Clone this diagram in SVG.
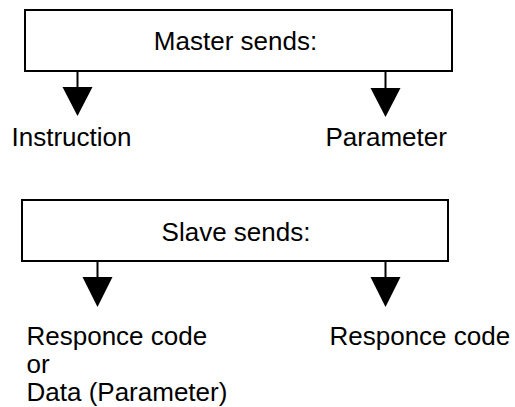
<svg xmlns="http://www.w3.org/2000/svg" width="515" height="407" viewBox="0 0 515 407">
<style>
.box{fill:#fff;stroke:#000;stroke-width:2}
.ln{stroke:#000;stroke-width:2;fill:none}
.hd{fill:#000;stroke:none}
text{font-family:"Liberation Sans",Arial,sans-serif;font-size:26px;fill:#000}
</style>
<rect width="515" height="407" fill="#fff"/>
<g id="master">
<rect class="box" x="25" y="10" width="427" height="61"/>
<text x="235.5" y="50" text-anchor="middle">Master sends:</text>
</g>
<g id="slave">
<rect class="box" x="22" y="200" width="426" height="61"/>
<text x="236" y="241" text-anchor="middle">Slave sends:</text>
</g>
<g id="instruction"><text x="11.5" y="146">Instruction</text></g>
<g id="parameter"><text x="325.5" y="146">Parameter</text></g>
<g id="resp1"><text x="26.5" y="345">Responce code</text><text x="26.5" y="373">or</text><text x="26.5" y="401">Data (Parameter)</text></g>
<g id="resp2"><text x="329.5" y="345">Responce code</text></g>
<g id="connectors">
<line class="ln" x1="77.5" y1="71" x2="77.5" y2="88"/>
<polygon class="hd" points="62.5,87 92.5,87 77.5,116"/>
<line class="ln" x1="385.5" y1="71" x2="385.5" y2="89"/>
<polygon class="hd" points="370.5,88 400.5,88 385.5,117"/>
<line class="ln" x1="97.5" y1="261" x2="97.5" y2="278"/>
<polygon class="hd" points="82.5,277 112.5,277 97.5,307"/>
<line class="ln" x1="385.5" y1="261" x2="385.5" y2="278"/>
<polygon class="hd" points="370.5,277 400.5,277 385.5,307"/>
</g>
</svg>
